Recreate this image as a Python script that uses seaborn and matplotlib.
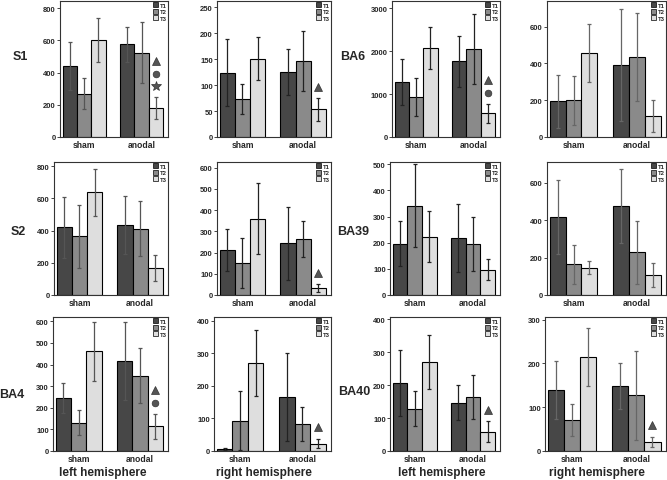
import pandas as pd
import seaborn as sns
import matplotlib.pyplot as plt
from matplotlib.patches import Patch
from matplotlib.transforms import offset_copy

conditions = ['sham', 'anodal']
times = ['T1', 'T2', 'T3']
colors = ['#474747', '#8a8a8a', '#dedede']

# values in order: sham T1, T2, T3, anodal T1, T2, T3
s1_left_mean = [440, 270, 605, 575, 525, 178]
s1_left_err = [148, 97, 137, 110, 190, 68]
s1_right_mean = [124, 74, 151, 125, 146, 53]
s1_right_err = [65, 29, 42, 45, 58, 22]
ba6_left_mean = [1280, 930, 2070, 1760, 2050, 555]
ba6_left_err = [540, 450, 485, 585, 825, 220]
ba6_right_mean = [195, 200, 455, 392, 437, 113]
ba6_right_err = [145, 134, 158, 305, 240, 86]

s2_left_mean = [420, 365, 637, 435, 413, 170]
s2_left_err = [190, 195, 147, 182, 173, 80]
s2_right_mean = [213, 150, 360, 243, 264, 31]
s2_right_err = [98, 118, 167, 170, 85, 19]
ba39_left_mean = [197, 342, 223, 218, 194, 97]
ba39_left_err = [87, 160, 98, 129, 103, 41]
ba39_right_mean = [418, 165, 146, 477, 228, 109]
ba39_right_err = [200, 105, 36, 198, 170, 64]

ba4_left_mean = [245, 131, 462, 418, 348, 114]
ba4_left_err = [71, 58, 137, 180, 128, 58]
ba4_right_mean = [7, 93, 270, 165, 83, 23]
ba4_right_err = [3, 90, 102, 135, 51, 15]
ba40_left_mean = [207, 129, 271, 147, 164, 59]
ba40_left_err = [101, 53, 82, 53, 66, 33]
ba40_right_mean = [140, 71, 215, 149, 127, 21]
ba40_right_err = [66, 37, 66, 52, 102, 12]

# significance symbols over anodal T3 (bottom to top)
s1_left_sig = ['*', 'o', '^']
s1_right_sig = ['^']
ba6_left_sig = ['o', '^']
ba6_right_sig = []
s2_left_sig = []
s2_right_sig = ['^']
ba39_left_sig = []
ba39_right_sig = []
ba4_left_sig = ['o', '^']
ba4_right_sig = ['^']
ba40_left_sig = ['^']
ba40_right_sig = ['^']

row_labels = ['S1', 'BA6', 'S2', 'BA39', 'BA4', 'BA40']
col_labels = ['left hemisphere', 'right hemisphere', 'left hemisphere', 'right hemisphere']

sns.set_style('ticks')
plt.rcParams['font.family'] = ['Liberation Sans', 'DejaVu Sans']
plt.rcParams['font.weight'] = 'bold'

W, H = 667, 481
fig = plt.figure(figsize=(W / 100, H / 100), dpi=100)

# axes boxes in pixels: left, top, right, bottom
boxes = [
    (60, 2, 168, 138), (217, 2, 331, 138), (392, 2, 500, 138), (547, 2, 666, 138),
    (54, 163, 168, 296), (217, 163, 331, 296), (390, 163, 500, 296), (547, 163, 666, 296),
    (53, 318, 168, 452), (214, 318, 331, 452), (390, 318, 500, 452), (545, 318, 666, 452),
]

panels = [
    (s1_left_mean, s1_left_err, s1_left_sig, 845, 200),
    (s1_right_mean, s1_right_err, s1_right_sig, 262, 50),
    (ba6_left_mean, ba6_left_err, ba6_left_sig, 3170, 1000),
    (ba6_right_mean, ba6_right_err, ba6_right_sig, 740, 200),
    (s2_left_mean, s2_left_err, s2_left_sig, 826, 200),
    (s2_right_mean, s2_right_err, s2_right_sig, 627, 100),
    (ba39_left_mean, ba39_left_err, ba39_left_sig, 509, 100),
    (ba39_right_mean, ba39_right_err, ba39_right_sig, 712, 200),
    (ba4_left_mean, ba4_left_err, ba4_left_sig, 620, 100),
    (ba4_right_mean, ba4_right_err, ba4_right_sig, 411, 100),
    (ba40_left_mean, ba40_left_err, ba40_left_sig, 407, 100),
    (ba40_right_mean, ba40_right_err, ba40_right_sig, 306, 100),
]

err_colors = ['#555555', '#222222', '#222222', '#666666']
marker_sizes = {'^': 5.2, 'o': 4.8, '*': 7.5}


def draw_panel(ax, means, errs, sig, ymax, step, ecolor):
    df = pd.DataFrame({
        'condition': [c for c in conditions for _ in times],
        'time': times * 2,
        'value': means,
    })
    sns.barplot(data=df, x='condition', y='value', hue='time', hue_order=times,
                order=conditions, palette=colors, errorbar=None, width=0.75,
                edgecolor='black', linewidth=0.8, legend=False, ax=ax)
    bar_sets = list(ax.containers)
    top = None
    for i, cont in enumerate(bar_sets):
        for j, bar in enumerate(cont):
            k = j * 3 + i
            x = bar.get_x() + bar.get_width() / 2
            ax.errorbar(x, means[k], yerr=errs[k], color=ecolor, lw=0.9,
                        capsize=1.6, capthick=0.9)
            if k == 5:
                top = (x, means[k] + errs[k])
    for n, m in enumerate(sig):
        tr = offset_copy(ax.transData, fig=fig, y=8 + 9 * n, units='points')
        ax.plot(top[0], top[1], marker=m, ms=marker_sizes[m], color='#555555',
                mec='#333333', mew=0.5, transform=tr, clip_on=False)

    ax.set_ylim(0, ymax)
    ax.set_yticks(range(0, int(ymax) + 1, step))
    ax.set_xlim(-0.42, 1.46)
    ax.set_xlabel('')
    ax.set_ylabel('')
    ax.tick_params(axis='y', labelsize=5.5, length=2, width=0.6, pad=1)
    ax.tick_params(axis='x', labelsize=6.2, length=0, pad=2)
    for s in ax.spines.values():
        s.set_linewidth(0.8)
        s.set_color('#333333')
    handles = [Patch(facecolor=c, edgecolor='black', lw=0.5) for c in colors]
    ax.legend(handles, times, loc='upper right', fontsize=4.2, frameon=False,
              handlelength=0.9, handleheight=0.9, handletextpad=0.2,
              labelspacing=0.15, borderaxespad=0.15, borderpad=0.1)


for idx, (box, p) in enumerate(zip(boxes, panels)):
    l, t, r, b = box
    ax = fig.add_axes([l / W, 1 - b / H, (r - l) / W, (b - t) / H])
    draw_panel(ax, *p, err_colors[idx % 4])

# row labels
label_pos = [(20, 57), (353, 57), (18, 232), (353, 232), (12, 395), (354, 392)]
for lab, (x, y) in zip(row_labels, label_pos):
    fig.text(x / W, 1 - y / H, lab, ha='center', va='center', fontsize=9, fontweight='bold')

# column labels
col_x = [103, 264, 442, 597]
for lab, x in zip(col_labels, col_x):
    fig.text(x / W, 1 - 473 / H, lab, ha='center', va='center', fontsize=8.5, fontweight='bold')

fig.savefig('out.png', dpi=100)
